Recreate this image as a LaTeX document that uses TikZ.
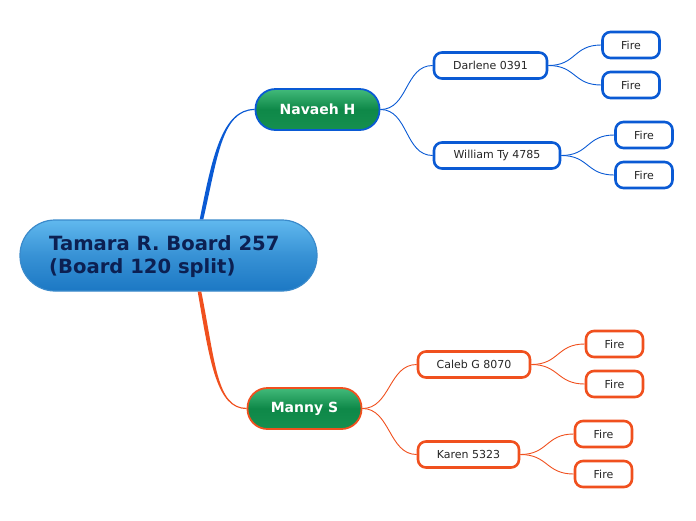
\documentclass[tikz,border=0pt]{standalone}
\usepackage{fontspec}
\setmainfont{DejaVu Sans}
\usetikzlibrary{calc}
\definecolor{bblue}{RGB}{10,90,212}
\definecolor{oorange}{RGB}{240,80,30}
\definecolor{navy}{RGB}{12,32,82}
\definecolor{rootline}{RGB}{58,138,203}
\definecolor{roottop}{RGB}{96,184,238}
\definecolor{rootbot}{RGB}{28,120,196}
\definecolor{gtop}{RGB}{66,186,122}
\definecolor{gbot}{RGB}{14,136,72}
\tikzset{
  rootbox/.style={draw=rootline, line width=1.2pt, rounded corners=35pt, top color=roottop, bottom color=rootbot, middle color=rootbot!60!roottop, minimum width=297pt, minimum height=71pt, text=navy, font=\fontsize{19.6}{23}\selectfont\bfseries, align=left, inner sep=0pt},
  mainbox/.style={line width=1.8pt, rounded corners=20pt, top color=gtop, bottom color=gbot!85!gtop, middle color=gbot, minimum height=41pt, text=white, font=\fontsize{14}{16}\selectfont\bfseries, inner sep=0pt},
  leafbox/.style={fill=white, line width=2.6pt, rounded corners=8pt, minimum height=26pt, font=\fontsize{11}{13}\selectfont, text=black!85, inner sep=0pt},
  bl/.style={draw=bblue},
  ol/.style={draw=oorange},
  thinb/.style={bblue, line width=0.9pt},
  thino/.style={oorange, line width=0.9pt},
}
\begin{document}
\begin{tikzpicture}[x=1pt,y=-1pt]
\useasboundingbox (0,0) rectangle (696,520);
% nodes
\node[rootbox] (root) at (168.5,255.5) {};
\node[text=navy, font=\fontsize{19.6}{23}\selectfont\bfseries, align=left, anchor=west, inner sep=0pt] (roottext) at (49,257) {Tamara R. Board 257\\(Board 120 split)};
\node[mainbox, draw=bblue, minimum width=124pt] (nav) at (317.5,109.5) {Navaeh H};
\node[mainbox, draw=oorange, minimum width=114pt] (man) at (304.5,408.5) {Manny S};
\node[leafbox, bl, minimum width=113pt] (dar) at (490.5,65.5) {Darlene 0391};
\node[leafbox, bl, minimum width=126pt] (wil) at (497,155.5) {William Ty 4785};
\node[leafbox, bl, minimum width=57pt] (f1) at (631,45) {Fire};
\node[leafbox, bl, minimum width=57pt] (f2) at (631,85) {Fire};
\node[leafbox, bl, minimum width=57pt] (f3) at (644,135) {Fire};
\node[leafbox, bl, minimum width=57pt] (f4) at (644,175) {Fire};
\node[leafbox, ol, minimum width=112pt] (cal) at (474,364.5) {Caleb G 8070};
\node[leafbox, ol, minimum width=101pt] (kar) at (468.5,454.5) {Karen 5323};
\node[leafbox, ol, minimum width=57pt] (f5) at (614.5,344) {Fire};
\node[leafbox, ol, minimum width=57pt] (f6) at (614.5,384) {Fire};
\node[leafbox, ol, minimum width=57pt] (f7) at (603.5,434) {Fire};
\node[leafbox, ol, minimum width=57pt] (f8) at (603.5,474) {Fire};
% main connectors (tapered)
\coordinate (ra) at ([xshift=33pt]root.north);
\coordinate (rb) at ([xshift=31pt]root.south);
\fill[bblue] ($(ra)+(-1.8,0)$) .. controls +(12,-60) and +(-33,0) .. ($(nav.west)+(0,-0.6)$)
  -- ($(nav.west)+(0,0.6)$) .. controls +(-33,0) and +(14,-60) .. ($(ra)+(1.8,0)$) -- cycle;
\fill[oorange] ($(rb)+(-1.8,0)$) .. controls +(12,70) and +(-30,0) .. ($(man.west)+(0,0.6)$)
  -- ($(man.west)+(0,-0.6)$) .. controls +(-30,0) and +(14,70) .. ($(rb)+(1.8,0)$) -- cycle;
% sub connectors
\draw[thinb] (nav.east) .. controls +(28,0) and +(-28,0) .. (dar.west);
\draw[thinb] (nav.east) .. controls +(28,0) and +(-28,0) .. (wil.west);
\draw[thinb] (dar.east) .. controls +(28,0) and +(-28,0) .. (f1.west);
\draw[thinb] (dar.east) .. controls +(28,0) and +(-28,0) .. (f2.west);
\draw[thinb] (wil.east) .. controls +(28,0) and +(-28,0) .. (f3.west);
\draw[thinb] (wil.east) .. controls +(28,0) and +(-28,0) .. (f4.west);
\draw[thino] (man.east) .. controls +(28,0) and +(-28,0) .. (cal.west);
\draw[thino] (man.east) .. controls +(28,0) and +(-28,0) .. (kar.west);
\draw[thino] (cal.east) .. controls +(28,0) and +(-28,0) .. (f5.west);
\draw[thino] (cal.east) .. controls +(28,0) and +(-28,0) .. (f6.west);
\draw[thino] (kar.east) .. controls +(28,0) and +(-28,0) .. (f7.west);
\draw[thino] (kar.east) .. controls +(28,0) and +(-28,0) .. (f8.west);
\end{tikzpicture}
\end{document}
